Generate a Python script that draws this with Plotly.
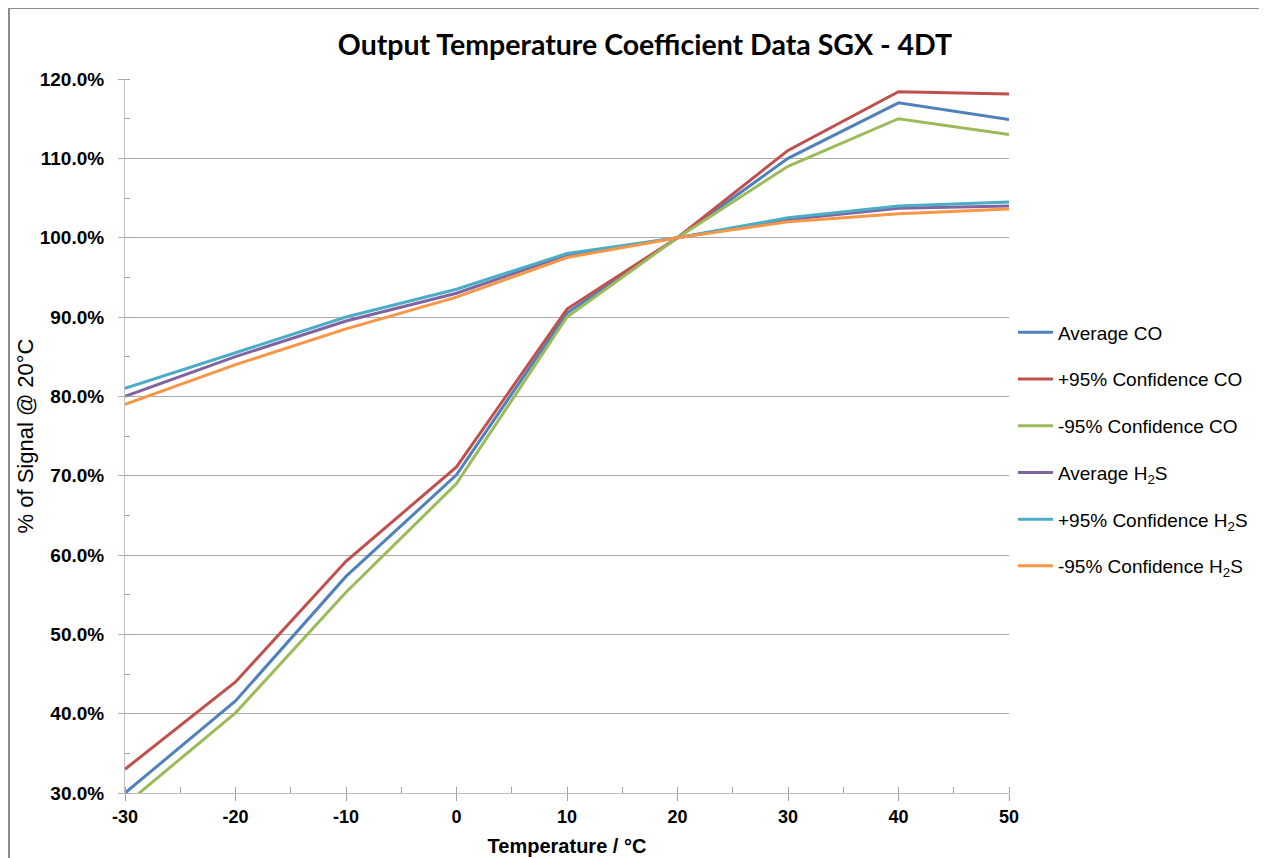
import plotly.graph_objects as go

temperature = [-30, -20, -10, 0, 10, 20, 30, 40, 50]

avg_co = [30.0, 41.6, 57.3, 70.1, 90.5, 100.0, 110.0, 117.0, 114.9]
pos95_co = [33.0, 44.0, 59.2, 71.1, 91.0, 100.0, 111.0, 118.4, 118.1]
neg95_co = [28.5, 40.1, 55.3, 69.0, 90.0, 100.0, 109.0, 115.0, 113.0]
avg_h2s = [80.0, 85.0, 89.5, 93.0, 97.8, 100.0, 102.3, 103.7, 104.0]
pos95_h2s = [81.0, 85.5, 90.0, 93.5, 98.0, 100.0, 102.5, 104.0, 104.5]
neg95_h2s = [79.0, 84.0, 88.5, 92.5, 97.5, 100.0, 102.0, 103.0, 103.6]

series_names = [
    "Average CO",
    "+95% Confidence CO",
    "-95% Confidence CO",
    "Average H<sub>2</sub>S",
    "+95% Confidence H<sub>2</sub>S",
    "-95% Confidence H<sub>2</sub>S",
]
series_values = [avg_co, pos95_co, neg95_co, avg_h2s, pos95_h2s, neg95_h2s]
series_colors = ["#4F81BD", "#C0504D", "#9BBB59", "#8064A2", "#4BACC6", "#F79646"]

y_tickvals = [30, 40, 50, 60, 70, 80, 90, 100, 110, 120]
y_ticktext = ["%.1f%%" % v for v in y_tickvals]
x_tickvals = [-30, -20, -10, 0, 10, 20, 30, 40, 50]

fig = go.Figure()
for i, (name, vals, col) in enumerate(zip(series_names, series_values, series_colors)):
    fig.add_trace(go.Scatter(
        x=temperature, y=vals, mode="lines", name=name,
        line=dict(color=col, width=3), legendgroup="g%d" % i,
    ))

grid_col = "#ababab"
# page body has an 8px margin, so the figure is laid out 8px left/up of the window edge
fig.update_layout(
    width=1259, height=850,
    margin=dict(l=117, r=258, t=71, b=65, autoexpand=False),
    paper_bgcolor="white", plot_bgcolor="white",
    font=dict(family="Liberation Sans, Arial, sans-serif", color="black"),
    title=dict(
        text="<b>Output Temperature Coefficient Data SGX - 4DT</b>",
        x=(645 - 8) / 1259, xref="container", xanchor="center",
        y=1 - (45 - 8) / 850, yref="container", yanchor="middle",
        font=dict(family="Lato, sans-serif", size=28.5, color="black"),
    ),
    showlegend=True,
    legend=dict(
        x=1.0045, xanchor="left", y=0.6716, yanchor="top",
        font=dict(size=19, color="black"),
        tracegroupgap=19, itemwidth=35,
        bgcolor="rgba(0,0,0,0)",
    ),
    xaxis=dict(
        range=[-30, 50], tickvals=x_tickvals,
        ticktext=["<b>%d</b>" % v for v in x_tickvals],
        tickfont=dict(size=18), showgrid=False, zeroline=False,
        showline=True, linecolor="#bfbfbf", linewidth=1,
        ticks="outside", ticklen=7, tickcolor="#a0a0a0",
        minor=dict(dtick=5, ticks="inside", ticklen=6, tickcolor="#a0a0a0", showgrid=False),
        title=dict(text="<b>Temperature / °C</b>", font=dict(size=20), standoff=13),
    ),
    yaxis=dict(
        range=[30, 120], tickvals=y_tickvals,
        ticktext=["<b>%s</b>" % t for t in y_ticktext],
        tickfont=dict(size=19), showgrid=True, gridcolor=grid_col, gridwidth=1,
        zeroline=False, showline=True, linecolor="#bfbfbf", linewidth=1,
        ticks="outside", ticklen=6, tickcolor=grid_col, ticklabelstandoff=10,
        minor=dict(dtick=5, tick0=30, ticks="inside", ticklen=5, tickcolor="#a0a0a0", showgrid=False),
        title=dict(text="% of Signal @ 20°C", font=dict(size=22), standoff=0),
    ),
)

# outer chart frame (left and top edges)
fx = (9 - 125) / 884
fy = (793 - 8) / 714
fig.add_shape(type="line", xref="paper", yref="paper",
              x0=fx, x1=fx, y0=-0.2, y1=fy,
              line=dict(color="#8c8c8c", width=2))
fig.add_shape(type="line", xref="paper", yref="paper",
              x0=fx, x1=1.4, y0=fy, y1=fy,
              line=dict(color="#8c8c8c", width=2))

fig.write_html("out.html")
